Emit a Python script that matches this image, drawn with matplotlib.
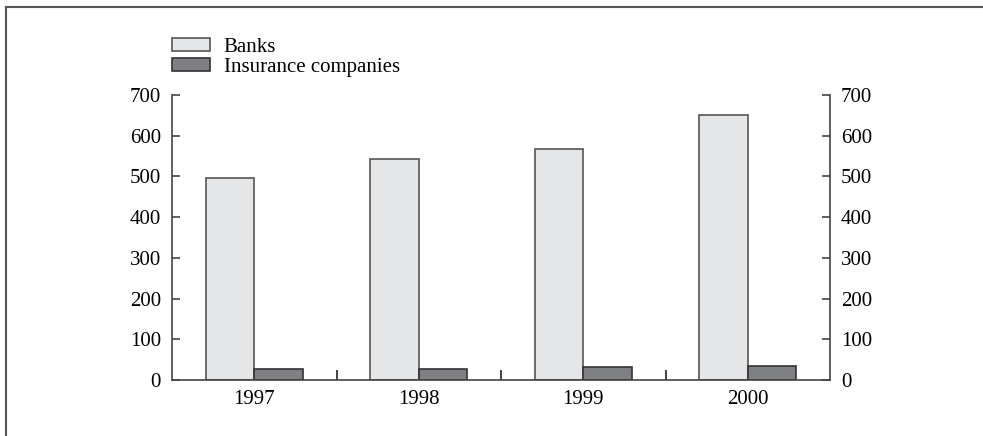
import numpy as np
import matplotlib.pyplot as plt
from matplotlib.lines import Line2D

plt.rcParams['font.family'] = ['Liberation Serif', 'DejaVu Serif']

years = ['1997', '1998', '1999', '2000']
banks = [497, 543, 568, 650]
insurance = [26, 26, 31, 34]

fs = 15

fig = plt.figure(figsize=(9.83, 4.36), dpi=100)
ax = fig.add_axes([172 / 983, 1 - 380 / 436, (830 - 172) / 983, (380 - 95) / 436])

x = np.arange(len(years))
w = 0.295
ax.bar(x - w / 2, banks, w, color='#e5e6e8', edgecolor='#555555', linewidth=1.2, label='Banks')
ax.bar(x + w / 2, insurance, w, color='#7f8083', edgecolor='#333333', linewidth=1.2,
       label='Insurance companies')

ax.set_xlim(-0.5, len(years) - 0.5)
ax.set_ylim(0, 700)
ax.set_yticks(range(0, 701, 100))
ax.set_xticks(x)
ax.set_xticklabels(years, fontsize=fs)
ax.tick_params(axis='x', length=0, pad=7)
ax.set_xticks(x[:-1] + 0.5, minor=True)
ax.tick_params(axis='x', which='minor', direction='in', length=7, width=1.2, color='#222222')
ax.tick_params(axis='y', direction='in', length=6, width=1.2, color='#444444', labelsize=fs, pad=8)

for s in ['top', 'right']:
    ax.spines[s].set_visible(False)
ax.spines['left'].set_color('#444444')
ax.spines['bottom'].set_color('#444444')
ax.spines['left'].set_linewidth(1.2)
ax.spines['bottom'].set_linewidth(1.2)

ax2 = ax.twinx()
ax2.set_ylim(0, 700)
ax2.set_yticks(range(0, 701, 100))
ax2.tick_params(axis='y', direction='in', length=6, width=1.2, color='#444444', labelsize=fs, pad=8)
for s in ['top', 'left', 'bottom']:
    ax2.spines[s].set_visible(False)
ax2.spines['right'].set_color('#444444')
ax2.spines['right'].set_linewidth(1.2)

ax.legend(loc='upper left', bbox_to_anchor=(172 / 983, 1 - 38 / 436), bbox_transform=fig.transFigure,
          frameon=False, fontsize=fs, handlelength=1.83, handleheight=0.6, labelspacing=0.05,
          handletextpad=0.65, borderpad=0, borderaxespad=0)

# page frame: top and left lines only
fig.add_artist(Line2D([6 / 983, 1], [1 - 7 / 436, 1 - 7 / 436], color='#555555', linewidth=1.5,
                      transform=fig.transFigure))
fig.add_artist(Line2D([6 / 983, 6 / 983], [0, 1 - 7 / 436], color='#555555', linewidth=1.5,
                      transform=fig.transFigure))

fig.savefig('out.png', dpi=100)
